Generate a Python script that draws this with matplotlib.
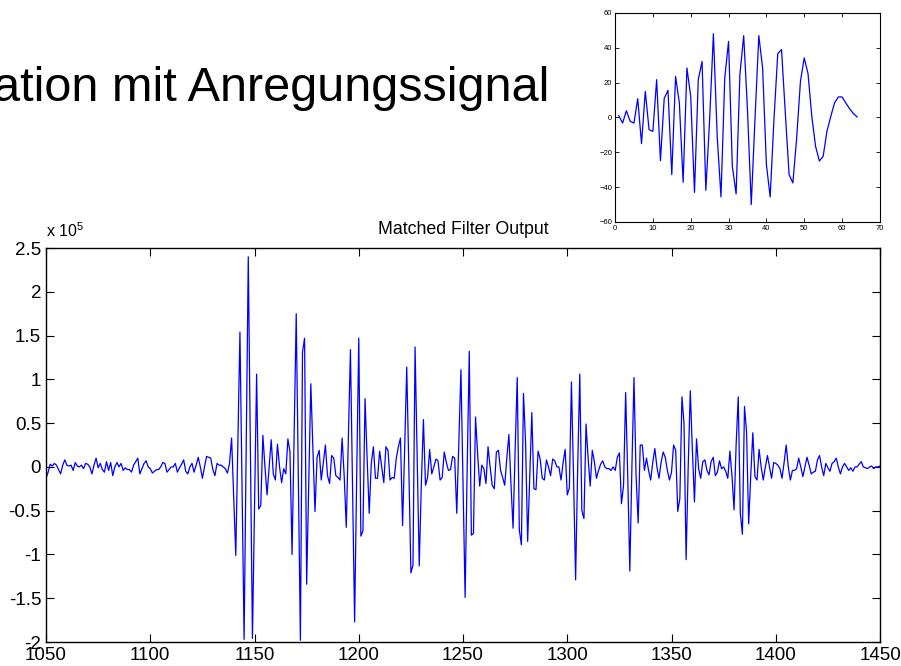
import matplotlib
matplotlib.use("Agg")
import matplotlib.pyplot as plt
import numpy as np

plt.rcParams['font.family'] = ['Liberation Sans', 'DejaVu Sans']
plt.rcParams['mathtext.fontset'] = 'custom'
plt.rcParams['mathtext.rm'] = 'Liberation Sans'

# Matched filter output, samples 1050..1450, values in units of 1e5
mf_start = 1050
mf_values = [
    -0.13, -0.06, 0.03, 0.01, 0.04, 0.02, -0.03, -0.08, 0.02, 0.08,   # 1050
    0.02, 0.01, 0.02, -0.04, 0.05, 0.01, 0.00, 0.02, -0.02, 0.04,     # 1060
    0.03, 0.00, -0.08, 0.02, 0.10, -0.01, 0.04, -0.03, -0.06, 0.06,   # 1070
    -0.04, 0.05, -0.10, 0.00, 0.05, 0.00, 0.04, -0.04, -0.01, -0.03,  # 1080
    -0.03, -0.06, 0.02, 0.06, 0.10, -0.08, -0.02, 0.04, 0.07, 0.00,   # 1090
    -0.02, -0.07, -0.05, -0.03, -0.03, 0.00, 0.05, 0.04, -0.06, -0.03,  # 1100
    0.00, 0.00, 0.04, -0.06, -0.01, 0.03, 0.08, -0.05, -0.08, 0.00,   # 1110
    0.04, -0.06, 0.02, 0.11, 0.00, -0.13, 0.00, 0.12, 0.11, 0.10,     # 1120
    -0.03, -0.10, 0.04, 0.02, 0.02, 0.00, -0.02, -0.07, 0.04, 0.33,   # 1130
    -0.35, -1.01, 0.25, 1.54, -0.20, -1.97, 0.20, 2.40, 0.20, -1.96,  # 1140
    -0.45, 1.06, -0.48, -0.44, 0.36, 0.00, -0.32, 0.00, 0.31, -0.08,  # 1150
    -0.15, 0.26, 0.00, -0.18, -0.02, -0.08, 0.32, 0.17, -1.00, 0.35,  # 1160
    1.75, -0.10, -1.98, 1.31, 1.47, -1.34, -0.20, 0.95, 0.20, -0.51,  # 1170
    0.11, 0.19, -0.15, 0.05, 0.25, -0.10, -0.19, 0.13, 0.10, -0.10,   # 1180
    -0.12, -0.15, 0.33, -0.10, -0.69, 0.30, 1.34, -0.20, -1.77, -0.10,  # 1190
    1.47, -0.79, -0.73, 0.78, 0.10, -0.53, 0.04, 0.23, -0.13, -0.13,  # 1200
    0.18, 0.00, -0.18, 0.23, 0.19, -0.15, -0.12, -0.13, 0.10, 0.23,   # 1210
    0.33, -0.67, 0.20, 1.14, 0.00, -1.21, -1.12, 1.37, 0.10, -1.13,   # 1220
    -0.20, 0.54, -0.21, -0.12, 0.20, -0.08, 0.00, 0.09, 0.07, -0.15,  # 1230
    -0.12, 0.17, 0.05, -0.04, -0.03, 0.12, 0.10, -0.53, 0.30, 1.11,   # 1240
    -0.20, -1.49, 0.00, 1.32, -0.78, -0.76, 0.57, 0.15, -0.22, 0.02,  # 1250
    -0.02, -0.19, 0.23, 0.00, -0.21, -0.25, 0.17, 0.19, -0.04, -0.12,  # 1260
    -0.21, 0.10, 0.37, -0.20, -0.70, 0.20, 1.02, -0.72, -0.89, 0.84,  # 1270
    0.28, -0.85, -0.10, 0.62, -0.25, -0.26, 0.18, 0.09, -0.13, -0.15,  # 1280
    0.08, 0.00, -0.10, 0.09, 0.07, 0.00, 0.00, -0.15, 0.05, 0.20,     # 1290
    -0.32, -0.24, 0.97, -0.10, -1.29, 0.00, 1.06, -0.50, -0.59, 0.49,  # 1300
    0.10, -0.22, 0.19, 0.06, -0.13, -0.04, 0.03, 0.07, 0.00, -0.02,   # 1310
    -0.02, -0.04, 0.00, -0.04, 0.11, 0.16, -0.42, -0.21, 0.85, -0.10,  # 1320
    -1.19, 0.00, 1.02, -0.10, -0.64, 0.25, 0.25, -0.04, 0.10, -0.04,  # 1330
    -0.15, 0.05, 0.21, 0.00, -0.13, 0.05, 0.17, 0.11, -0.04, -0.15,   # 1340
    -0.06, 0.25, 0.19, -0.51, -0.36, 0.80, 0.49, -1.06, 0.00, 0.87,   # 1350
    0.20, -0.40, 0.32, -0.02, -0.13, 0.06, 0.08, -0.04, -0.09, 0.06,  # 1360
    0.11, -0.10, -0.06, 0.07, -0.02, 0.00, -0.05, -0.13, 0.18, -0.10,  # 1370
    -0.49, 0.26, 0.80, -0.53, -0.77, 0.69, 0.40, -0.65, -0.10, 0.39,  # 1380
    -0.11, -0.15, 0.20, 0.00, -0.15, 0.00, 0.13, 0.00, -0.13, 0.05,   # 1390
    0.04, 0.02, -0.02, -0.13, 0.05, 0.25, 0.00, -0.15, -0.04, -0.04,  # 1400
    -0.02, 0.10, 0.00, -0.11, 0.00, 0.11, 0.02, -0.08, -0.06, -0.05,  # 1410
    0.08, 0.13, 0.00, -0.10, 0.04, -0.01, -0.05, 0.04, 0.06, 0.10,    # 1420
    0.00, -0.08, 0.00, 0.04, 0.00, -0.04, -0.01, -0.05, 0.00, 0.00,   # 1430
    0.03, 0.06, 0.00, -0.01, -0.02, 0.00, 0.01, -0.02, 0.00, 0.00,    # 1440
    0.01,                                                             # 1450
]
mf_x = np.arange(mf_start, mf_start + len(mf_values))

# excitation signal (inset), samples 1..64
exc_values = [
    1.0, -3.2, 3.9, -2.2, -3.2, 10.8, -15, 15, -7, -8,
    21.7, -24.8, 11, 15.6, -32.8, 23.6, 8.3, -37.2, 28.4, 12.2,
    -43, 21.7, 32.2, -41.8, -1.2, 48.1, -10.8, -45.6, 22.7, 43.7,
    -28, -43.9, 24.6, 47, 4.5, -50, -0.3, 47, 28.4, -27,
    -45.6, -1.2, 36.6, 39, 2.6, -32.8, -37.6, -11.8, 20.8, 34.2,
    25.2, 0.7, -16.6, -25, -22.3, -8, 0.5, 8.3, 11.8, 11.8,
    8.3, 5, 2.2, 0.3,
]
exc_x = np.arange(1, len(exc_values) + 1)

main_xticks = [1050, 1100, 1150, 1200, 1250, 1300, 1350, 1400, 1450]
main_yticks = [-2, -1.5, -1, -0.5, 0, 0.5, 1, 1.5, 2, 2.5]
inset_xticks = [0, 10, 20, 30, 40, 50, 60, 70]
inset_yticks = [-60, -40, -20, 0, 20, 40, 60]

fig = plt.figure(figsize=(9.01, 6.66), dpi=100)

# slide heading (cut at the left edge as in the original)
fig.text(0.610, 0.848, 'ation mit Anregungssignal', ha='right', va='baseline',
         fontsize=35)

# main plot
ax = fig.add_axes([0.0511, 0.036, 0.9256, 0.5916])
ax.plot(mf_x, mf_values, color='#0000ff', lw=0.9)
ax.set_xlim(1050, 1450)
ax.set_ylim(-2, 2.5)
ax.set_xticks(main_xticks)
ax.set_yticks(main_yticks)
ax.set_yticklabels(['%g' % v for v in main_yticks])
ax.tick_params(direction='in', top=True, right=True, labelsize=13.5,
               length=6, width=0.8)
ax.set_title('Matched Filter Output', fontsize=12.8, pad=10)
ax.text(0.0, 1.02, r'x 10$^5$', transform=ax.transAxes, fontsize=11.5,
        ha='left', va='bottom')
for s in ax.spines.values():
    s.set_linewidth(1.0)

# inset with the excitation signal
ax2 = fig.add_axes([0.6826, 0.6667, 0.294, 0.3138])
ax2.plot(exc_x, exc_values, color='#0000ff', lw=0.9)
ax2.set_xlim(0, 70)
ax2.set_ylim(-60, 60)
ax2.set_xticks(inset_xticks)
ax2.set_yticks(inset_yticks)
ax2.tick_params(direction='in', top=True, right=True, labelsize=5.5,
                length=3, width=0.6, pad=2)
for s in ax2.spines.values():
    s.set_linewidth(0.8)

fig.savefig('out.png', dpi=100)
